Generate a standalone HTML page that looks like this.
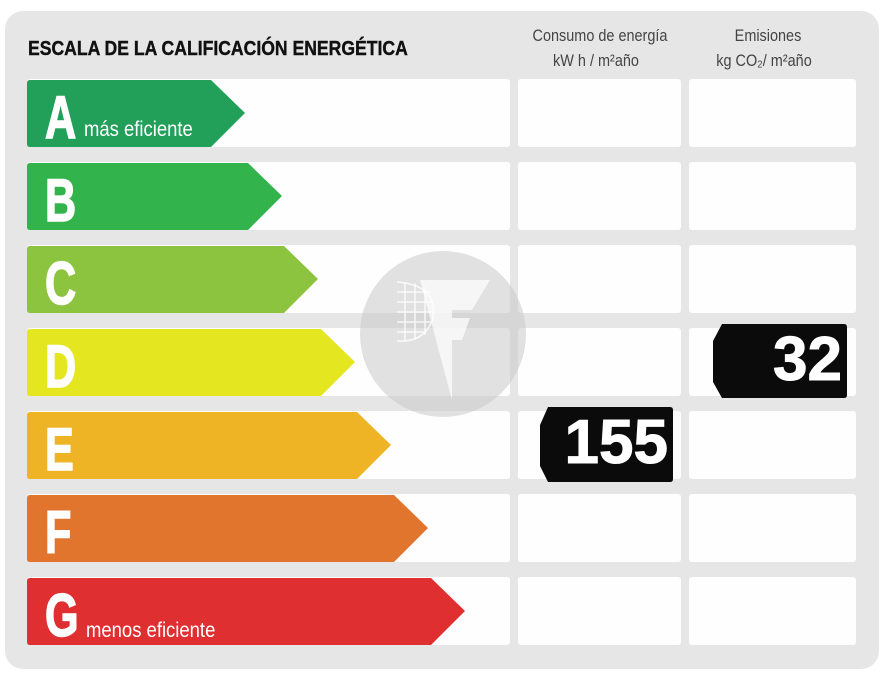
<!DOCTYPE html>
<html><head><meta charset="utf-8"><style>
html,body{margin:0;padding:0;background:#fff;width:886px;height:676px;overflow:hidden}
svg{display:block}
.L{font-family:"Liberation Sans",sans-serif;font-weight:bold;fill:#fff;font-size:60px;stroke:#fff;stroke-width:1.5}
.s{font-family:"Liberation Sans",sans-serif;fill:#fff;font-size:21px}
.h{font-family:"Liberation Sans",sans-serif;fill:#444;font-size:17px}
</style></head><body>
<svg width="886" height="676" viewBox="0 0 886 676">
<rect x="5" y="11" width="874" height="658" rx="18" fill="#e6e6e6"/>
<text x="28" y="55" font-family="Liberation Sans,sans-serif" font-weight="bold" font-size="20" fill="#111" stroke="#111" stroke-width="0.4" transform="translate(28 0) scale(0.88 1) translate(-28 0)">ESCALA DE LA CALIFICACIÓN ENERGÉTICA</text>
<g class="h" text-anchor="middle">
<text x="600" y="41" transform="translate(600 0) scale(0.85 1) translate(-600 0)">Consumo de energía</text>
<text x="596" y="66" transform="translate(596 0) scale(0.85 1) translate(-596 0)">kW h / m²año</text>
<text x="768" y="41" transform="translate(768 0) scale(0.85 1) translate(-768 0)">Emisiones</text>
<text x="764" y="66" transform="translate(764 0) scale(0.85 1) translate(-764 0)">kg CO₂/ m²año</text>
</g>
<g fill="#fefefe">
<rect x="27" y="79" width="483" height="68" rx="3"/><rect x="518" y="79" width="163" height="68" rx="3"/><rect x="689" y="79" width="167" height="68" rx="3"/>
<rect x="27" y="162" width="483" height="68" rx="3"/><rect x="518" y="162" width="163" height="68" rx="3"/><rect x="689" y="162" width="167" height="68" rx="3"/>
<rect x="27" y="245" width="483" height="68" rx="3"/><rect x="518" y="245" width="163" height="68" rx="3"/><rect x="689" y="245" width="167" height="68" rx="3"/>
<rect x="27" y="328" width="483" height="68" rx="3"/><rect x="518" y="328" width="163" height="68" rx="3"/><rect x="689" y="328" width="167" height="68" rx="3"/>
<rect x="27" y="411" width="483" height="68" rx="3"/><rect x="518" y="411" width="163" height="68" rx="3"/><rect x="689" y="411" width="167" height="68" rx="3"/>
<rect x="27" y="494" width="483" height="68" rx="3"/><rect x="518" y="494" width="163" height="68" rx="3"/><rect x="689" y="494" width="167" height="68" rx="3"/>
<rect x="27" y="577" width="483" height="68" rx="3"/><rect x="518" y="577" width="163" height="68" rx="3"/><rect x="689" y="577" width="167" height="68" rx="3"/>
</g>
<path d="M30 80H211L245 113L211 147H30Q27 147 27 144V83Q27 80 30 80Z" fill="#22a05a"/>
<path d="M30 163H248L282 196L248 230H30Q27 230 27 227V166Q27 163 30 163Z" fill="#32b34b"/>
<path d="M30 246H284L318 279L284 313H30Q27 313 27 310V249Q27 246 30 246Z" fill="#8dc43f"/>
<path d="M30 329H321L355 362L321 396H30Q27 396 27 393V332Q27 329 30 329Z" fill="#e4e620"/>
<path d="M30 412H357L391 445L357 479H30Q27 479 27 476V415Q27 412 30 412Z" fill="#efb425"/>
<path d="M30 495H394L428 528L394 562H30Q27 562 27 559V498Q27 495 30 495Z" fill="#e2752e"/>
<path d="M30 578H431L465 611L431 645H30Q27 645 27 642V581Q27 578 30 578Z" fill="#df2f30"/>
<g class="L">
<text x="45" y="138" transform="translate(45 0) scale(0.72 1) translate(-45 0)">A</text>
<text x="45" y="221" transform="translate(45 0) scale(0.72 1) translate(-45 0)">B</text>
<text x="45" y="304" transform="translate(45 0) scale(0.72 1) translate(-45 0)">C</text>
<text x="45" y="387" transform="translate(45 0) scale(0.72 1) translate(-45 0)">D</text>
<text x="45" y="470" transform="translate(45 0) scale(0.72 1) translate(-45 0)">E</text>
<text x="45" y="553" transform="translate(45 0) scale(0.72 1) translate(-45 0)">F</text>
<text x="45" y="636" transform="translate(45 0) scale(0.72 1) translate(-45 0)">G</text>
</g>
<text class="s" x="84" y="136" transform="translate(84 0) scale(0.88 1) translate(-84 0)">más eficiente</text>
<text class="s" x="86" y="637" transform="translate(86 0) scale(0.88 1) translate(-86 0)">menos eficiente</text>
<circle cx="443" cy="334" r="83" fill="#c8c8c8" fill-opacity="0.55"/>
<path d="M420 280H490L472 310H452V318H470L462 340H452V400Z" fill="#fff" fill-opacity="0.7"/>
<g stroke="#fff" stroke-opacity="0.8" stroke-width="1.5" fill="none">
<path d="M397 282Q438 285 433 318Q425 343 397 341"/>
<path d="M397 292H430M397 302H433M397 312H433M397 322H431M397 332H425M405 282V341M415 283V340M425 287V335"/>
</g>
<path d="M548 407H670Q673 407 673 410V479Q673 482 670 482H548L540 466V425Z" fill="#0b0b0b"/>
<text x="668" y="463" text-anchor="end" font-family="Liberation Sans,sans-serif" font-weight="bold" font-size="62" fill="#fff" stroke="#fff" stroke-width="1">155</text>
<path d="M722 324H844Q847 324 847 327V395Q847 398 844 398H722L713 382V341Z" fill="#0b0b0b"/>
<text x="842" y="380" text-anchor="end" font-family="Liberation Sans,sans-serif" font-weight="bold" font-size="62" fill="#fff" stroke="#fff" stroke-width="1">32</text>
</svg>
</body></html>
